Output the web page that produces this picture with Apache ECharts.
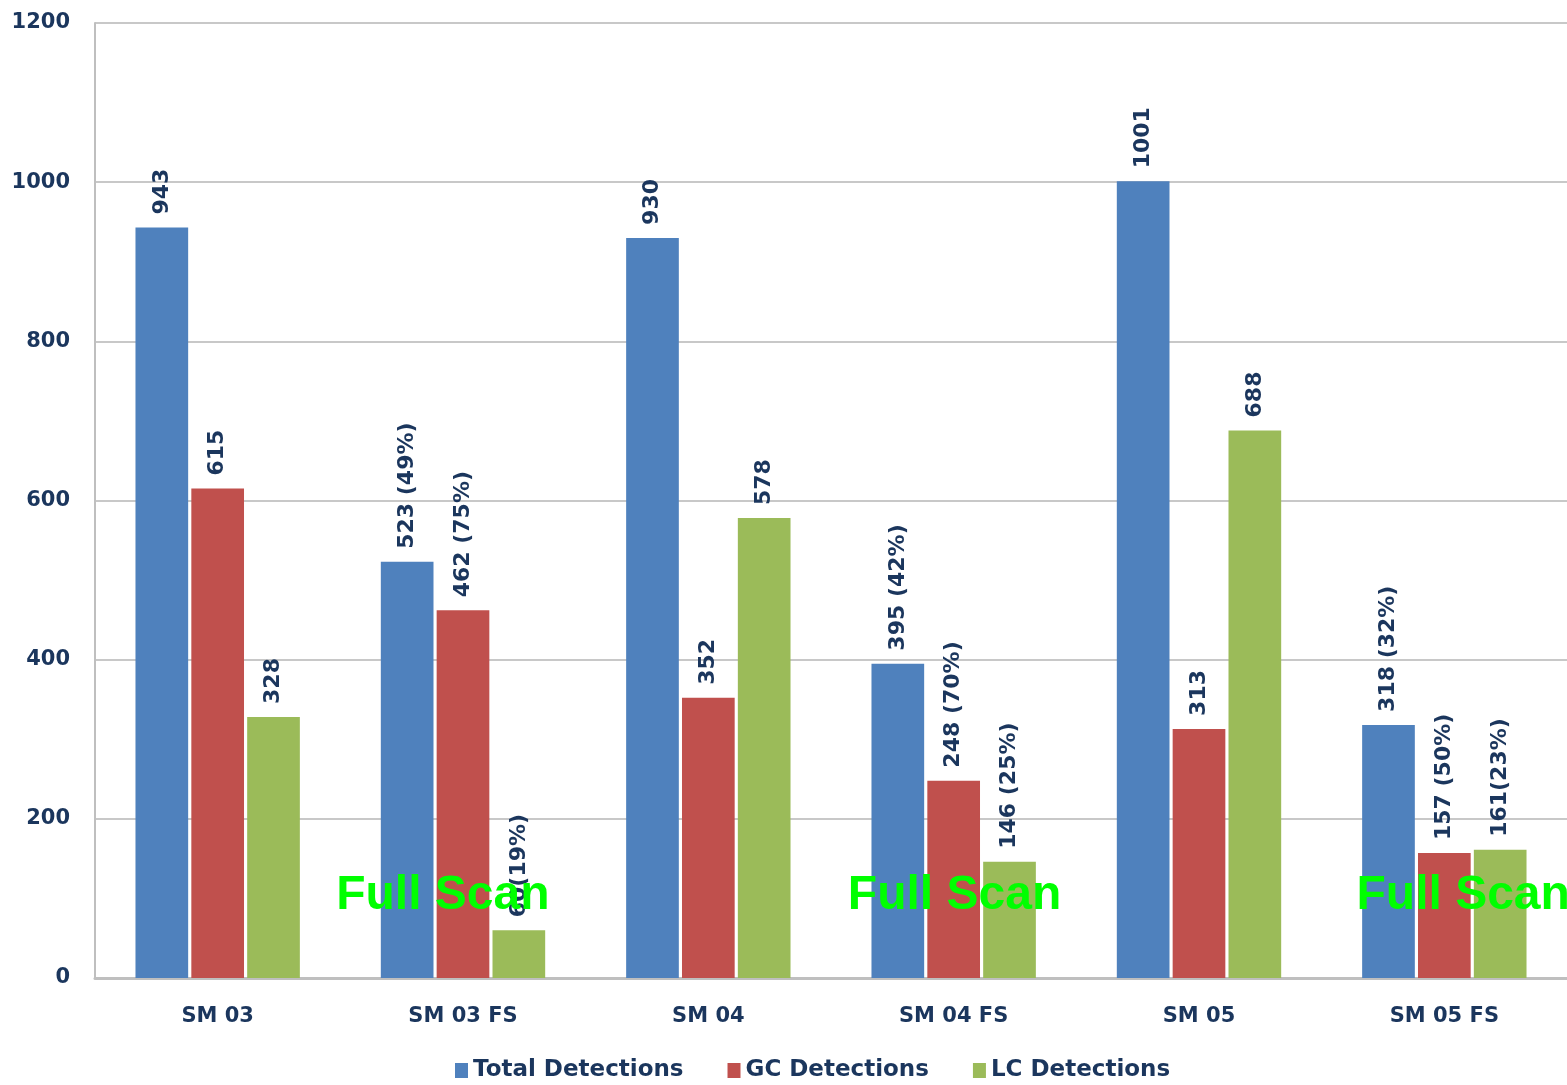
<!DOCTYPE html>
<html><head><meta charset="utf-8">
<script src="https://cdn.jsdelivr.net/npm/echarts@6/dist/echarts.min.js"></script>
<style>html,body{margin:0;padding:0;background:#fff}#c{width:1567px;height:1085px}</style>
</head><body><div id="c"></div>
<script>
const categories = ['SM 03', 'SM 03 FS', 'SM 04', 'SM 04 FS', 'SM 05', 'SM 05 FS'];
const totalValues = [943, 523, 930, 395, 1001, 318];
const gcValues = [615, 462, 352, 248, 313, 157];
const lcValues = [328, 60, 578, 146, 688, 161];
const totalLabels = ['943', '523 (49%)', '930', '395 (42%)', '1001', '318 (32%)'];
const gcLabels = ['615', '462 (75%)', '352', '248 (70%)', '313', '157 (50%)'];
const lcLabels = ['328', '60(19%)', '578', '146 (25%)', '688', '161(23%)'];
const seriesNames = ['Total Detections', 'GC Detections', 'LC Detections'];
const fullScanCats = ['SM 03 FS', 'SM 04 FS', 'SM 05 FS'];
const fullScanY = 107;

const navy = '#1b365d';
const font = 'DejaVu Sans';
function lbl(arr) {
  return {
    show: true, position: 'top', rotate: 90, align: 'left', verticalAlign: 'middle',
    distance: 13, color: navy, fontFamily: font, fontWeight: 'bold', fontSize: 22,
    formatter: p => arr[p.dataIndex]
  };
}
const chart = echarts.init(document.getElementById('c'));
chart.setOption({
  animation: false,
  grid: { left: 95, right: 0, top: 23, bottom: 107, containLabel: false },
  legend: {
    bottom: -2, left: 450, itemWidth: 13, itemHeight: 15, itemGap: 44,
    icon: 'rect',
    textStyle: { color: navy, fontFamily: font, fontWeight: 'bold', fontSize: 23, padding: [0, 0, 0, 0] },
    data: seriesNames
  },
  xAxis: {
    type: 'category', data: categories,
    axisLine: { lineStyle: { color: '#bfbfbf', width: 3 } },
    axisTick: { show: false },
    axisLabel: { color: navy, fontFamily: font, fontWeight: 'bold', fontSize: 21, margin: 28 }
  },
  yAxis: {
    type: 'value', min: 0, max: 1200, interval: 200,
    axisLine: { show: true, lineStyle: { color: '#bfbfbf', width: 2 } },
    axisTick: { show: false },
    splitLine: { lineStyle: { color: '#c8c8c8', width: 2 } },
    axisLabel: { color: navy, fontFamily: font, fontWeight: 'bold', fontSize: 21, margin: 25,
                 formatter: v => String(v) }
  },
  series: [
    { name: seriesNames[0], type: 'bar', data: totalValues, barGap: '6%', barCategoryGap: '33%',
      itemStyle: { color: '#4f81bd' }, label: lbl(totalLabels) },
    { name: seriesNames[1], type: 'bar', data: gcValues,
      itemStyle: { color: '#c0504d' }, label: lbl(gcLabels) },
    { name: seriesNames[2], type: 'bar', data: lcValues,
      itemStyle: { color: '#9bbb59' }, label: lbl(lcLabels),
      markPoint: {
        symbol: 'circle', symbolSize: 1, itemStyle: { color: 'rgba(0,0,0,0)' },
        label: { show: true, formatter: 'Full Scan', color: '#00ff00', fontFamily: 'Liberation Sans',
                 fontWeight: 'bold', fontSize: 48, position: 'inside' },
        data: fullScanCats.map((c, i) => ({ coord: [c, fullScanY], label: { offset: [[-76, -55, -37][i], 3] } }))
      }
    }
  ]
});
</script></body></html>
